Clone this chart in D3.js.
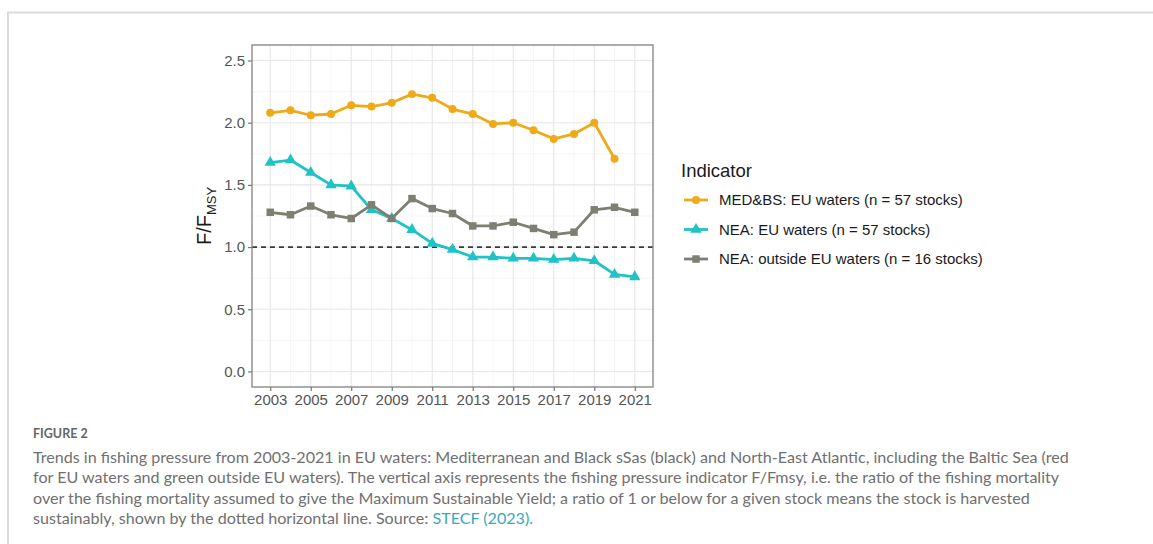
<!DOCTYPE html>
<html>
<head>
<meta charset="utf-8">
<script src="https://cdn.jsdelivr.net/npm/d3@7"></script>
<style>
  html, body { margin: 0; padding: 0; background: #fff; }
  svg { display: block; }
</style>
</head>
<body>
<svg id="fig" width="1153" height="544"></svg>
<script>
// Fishing pressure indicator F/FMSY by year
const years = d3.range(2003, 2022);
const medEU = [2.08, 2.10, 2.06, 2.07, 2.14, 2.13, 2.16, 2.23, 2.20, 2.11, 2.07, 1.99, 2.00, 1.94, 1.87, 1.91, 2.00, 1.71, null];
const neaEU = [1.68, 1.70, 1.60, 1.50, 1.49, 1.30, 1.23, 1.14, 1.03, 0.98, 0.92, 0.92, 0.91, 0.91, 0.90, 0.91, 0.89, 0.78, 0.76];
const neaOut = [1.28, 1.26, 1.33, 1.26, 1.23, 1.34, 1.23, 1.39, 1.31, 1.27, 1.17, 1.17, 1.20, 1.15, 1.10, 1.12, 1.30, 1.32, 1.28];
const seriesNames = ["MED&BS: EU waters (n = 57 stocks)", "NEA: EU waters (n = 57 stocks)", "NEA: outside EU waters (n = 16 stocks)"];
const yTicks = [0.0, 0.5, 1.0, 1.5, 2.0, 2.5];
const xTicks = d3.range(2003, 2022, 2);
const refLevel = 1.0;

const series = [
  { name: seriesNames[0], values: medEU, color: "#EEAA18", shape: d3.symbolCircle, size: 50 },
  { name: seriesNames[1], values: neaEU, color: "#1FC3C6", shape: d3.symbolTriangle, size: 56 },
  { name: seriesNames[2], values: neaOut, color: "#7E7F72", shape: d3.symbolSquare, size: 56 }
];

const svg = d3.select("#fig");
const chartFont = "Liberation Sans, Arial, sans-serif";

// page frame
svg.append("path")
  .attr("d", "M8,544 V12.5 H1153")
  .attr("fill", "none").attr("stroke", "#dcdcdc").attr("stroke-width", 2);

// plot panel
const panel = { left: 252, right: 653, top: 45, bottom: 387 };
const x = d3.scaleLinear().domain([2002.1, 2021.9]).range([panel.left, panel.right]);
const y = d3.scaleLinear().domain([-0.125, 2.625]).range([panel.bottom, panel.top]);

const g = svg.append("g");

// minor grid
const minorY = d3.range(0.25, 2.5, 0.5);
const minorX = d3.range(2004, 2022, 2);
g.selectAll(".minY").data(minorY).join("line")
  .attr("x1", panel.left).attr("x2", panel.right)
  .attr("y1", d => y(d)).attr("y2", d => y(d))
  .attr("stroke", "#f2f2f2").attr("stroke-width", 0.8);
g.selectAll(".minX").data(minorX).join("line")
  .attr("y1", panel.top).attr("y2", panel.bottom)
  .attr("x1", d => x(d)).attr("x2", d => x(d))
  .attr("stroke", "#f2f2f2").attr("stroke-width", 0.8);
// major grid
g.selectAll(".majY").data(yTicks).join("line")
  .attr("x1", panel.left).attr("x2", panel.right)
  .attr("y1", d => y(d)).attr("y2", d => y(d))
  .attr("stroke", "#e6e6e6").attr("stroke-width", 1.1);
g.selectAll(".majX").data(xTicks).join("line")
  .attr("y1", panel.top).attr("y2", panel.bottom)
  .attr("x1", d => x(d)).attr("x2", d => x(d))
  .attr("stroke", "#e6e6e6").attr("stroke-width", 1.1);

// reference line at F = FMSY
g.append("line")
  .attr("x1", panel.left).attr("x2", panel.right)
  .attr("y1", y(refLevel)).attr("y2", y(refLevel))
  .attr("stroke", "#3a3a3a").attr("stroke-width", 1.7)
  .attr("stroke-dasharray", "5,4");

// series lines and markers
const line = d3.line()
  .defined(d => d.v != null)
  .x(d => x(d.year)).y(d => y(d.v));

series.forEach(s => {
  const pts = years.map((yr, i) => ({ year: yr, v: s.values[i] }));
  g.append("path").datum(pts)
    .attr("d", line)
    .attr("fill", "none").attr("stroke", s.color)
    .attr("stroke-width", 2.8).attr("stroke-linejoin", "round");
  g.selectAll(null).data(pts.filter(d => d.v != null)).join("path")
    .attr("d", d3.symbol().type(s.shape).size(s.size))
    .attr("transform", d => `translate(${x(d.year)},${y(d.v)})`)
    .attr("fill", s.color);
});

// panel border
g.append("rect")
  .attr("x", panel.left).attr("y", panel.top)
  .attr("width", panel.right - panel.left).attr("height", panel.bottom - panel.top)
  .attr("fill", "none").attr("stroke", "#8a8a8a").attr("stroke-width", 1.4);

// axes
const yAxis = g.append("g").attr("transform", `translate(${panel.left},0)`)
  .call(d3.axisLeft(y).tickValues(yTicks).tickFormat(d3.format(".1f")).tickSize(4).tickPadding(3));
const xAxis = g.append("g").attr("transform", `translate(0,${panel.bottom})`)
  .call(d3.axisBottom(x).tickValues(xTicks).tickFormat(d3.format("d")).tickSize(4).tickPadding(3));
[yAxis, xAxis].forEach(a => {
  a.select(".domain").remove();
  a.selectAll(".tick line").attr("stroke", "#777").attr("stroke-width", 1.2);
  a.selectAll(".tick text")
    .attr("fill", "#555").style("font-family", chartFont)
    .style("font-size", "15px");
});

// y-axis title F / F_MSY
const yt = svg.append("text")
  .attr("transform", `translate(211,${y(1.25)}) rotate(-90)`)
  .attr("text-anchor", "middle")
  .style("font-family", chartFont)
  .style("font-size", "20px").attr("fill", "#1a1a1a");
yt.append("tspan").text("F/F");
yt.append("tspan").text("MSY").attr("dy", 5).style("font-size", "13px");

// legend
const lg = svg.append("g").attr("transform", "translate(681,0)");
lg.append("text").attr("x", 0).attr("y", 177).text("Indicator")
  .style("font-family", chartFont)
  .style("font-size", "18.5px").attr("fill", "#1a1a1a");
series.forEach((s, i) => {
  const cy = 200 + i * 29.5;
  lg.append("line").attr("x1", 3).attr("x2", 27).attr("y1", cy).attr("y2", cy)
    .attr("stroke", s.color).attr("stroke-width", 2.8);
  lg.append("path").attr("d", d3.symbol().type(s.shape).size(s.size)())
    .attr("transform", `translate(15,${cy})`).attr("fill", s.color);
  lg.append("text").attr("x", 38).attr("y", cy + 5).text(s.name)
    .style("font-family", chartFont)
    .style("font-size", "15px").attr("fill", "#1a1a1a");
});

// caption
const cap = svg.append("g").style("font-family", "Lato, 'Open Sans', sans-serif");
cap.append("text").attr("x", 33).attr("y", 438).text("FIGURE 2")
  .style("font-size", "12.5px").style("font-weight", "bold").attr("fill", "#666");
const capLines = [
  "Trends in fishing pressure from 2003-2021 in EU waters: Mediterranean and Black sSas (black) and North-East Atlantic, including the Baltic Sea (red",
  "for EU waters and green outside EU waters). The vertical axis represents the fishing pressure indicator F/Fmsy, i.e. the ratio of the fishing mortality",
  "over the fishing mortality assumed to give the Maximum Sustainable Yield; a ratio of 1 or below for a given stock means the stock is harvested",
  "sustainably, shown by the dotted horizontal line. Source: "
];
capLines.forEach((t, i) => {
  const tx = cap.append("text").attr("x", 33).attr("y", 463 + i * 20.3)
    .style("font-size", "16.1px").attr("fill", "#707070").text(t);
  if (i === capLines.length - 1) tx.append("tspan").text("STECF (2023).").attr("fill", "#3AA8BC");
});
</script>
</body>
</html>
